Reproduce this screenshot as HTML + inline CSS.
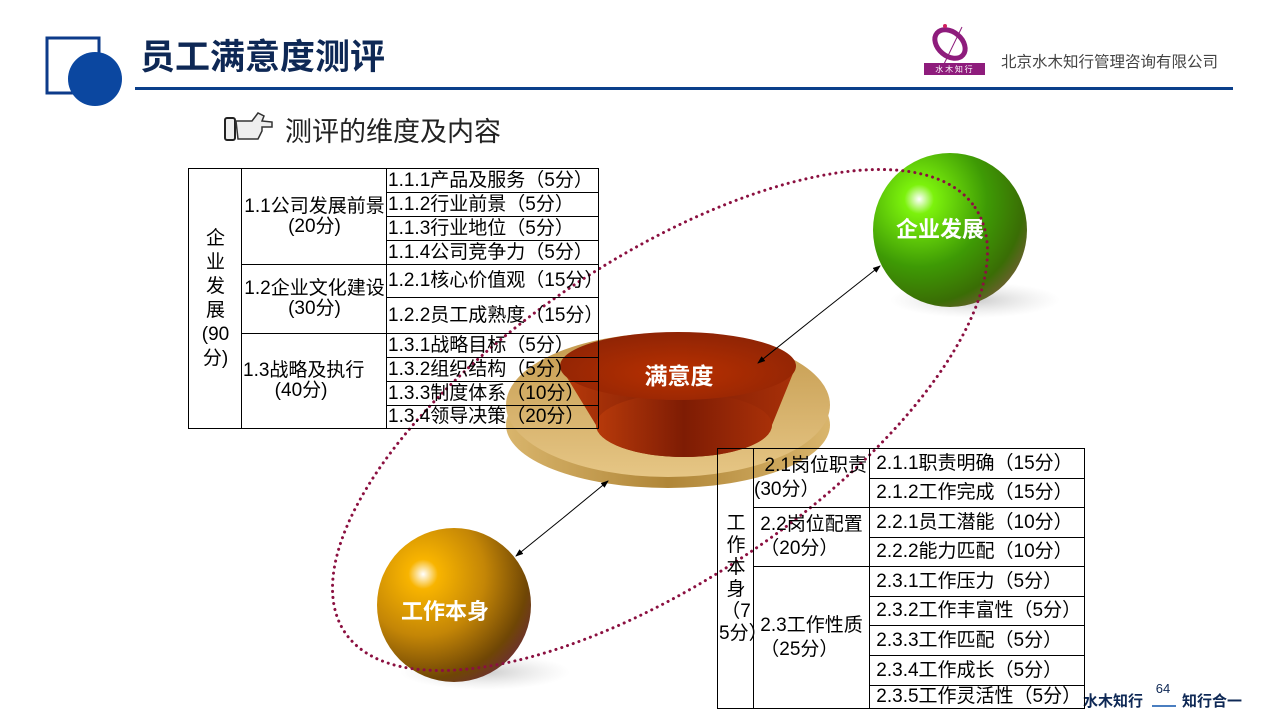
<!DOCTYPE html>
<html><head><meta charset="utf-8">
<style>
body{margin:0;width:1280px;height:720px;background:#fff;position:relative;overflow:hidden;font-family:"Liberation Sans","Noto Sans CJK SC",sans-serif;}
.a{position:absolute;}
table{border-collapse:collapse;position:absolute;font-size:19px;color:#000;table-layout:fixed;}
td{border:1px solid #000;padding:0 0 0 1px;white-space:nowrap;line-height:20px;overflow:visible;}
td.c{text-align:center;}
</style></head><body>
<svg class="a" style="left:0;top:0" width="1280" height="720">
<defs>
<radialGradient id="gr" cx="0.3" cy="0.3" r="0.8"><stop offset="0" stop-color="#fff"/><stop offset="0.12" stop-color="#7cf20c"/><stop offset="0.55" stop-color="#3e9a05"/><stop offset="0.85" stop-color="#3a6d05"/><stop offset="1" stop-color="#6d6030"/></radialGradient>
<radialGradient id="go" cx="0.3" cy="0.3" r="0.8"><stop offset="0" stop-color="#fff"/><stop offset="0.12" stop-color="#f8b400"/><stop offset="0.5" stop-color="#c48606"/><stop offset="0.85" stop-color="#6f4605"/><stop offset="1" stop-color="#6e3030"/></radialGradient>
<radialGradient id="sh" cx="0.5" cy="0.5" r="0.5"><stop offset="0" stop-color="#aaa" stop-opacity=".6"/><stop offset="1" stop-color="#ccc" stop-opacity="0"/></radialGradient>
<linearGradient id="gold" x1="0" y1="0" x2="0" y2="1"><stop offset="0" stop-color="#c49a4e"/><stop offset="1" stop-color="#e6c685"/></linearGradient>
<linearGradient id="goldb" x1="0" y1="0" x2="1" y2="0"><stop offset="0" stop-color="#d9b56c"/><stop offset="0.5" stop-color="#b08638"/><stop offset="1" stop-color="#d9b56c"/></linearGradient>
<linearGradient id="red" x1="0" y1="0" x2="1" y2="0"><stop offset="0" stop-color="#b83a0a"/><stop offset="0.5" stop-color="#7e1c04"/><stop offset="1" stop-color="#a83008"/></linearGradient>
<radialGradient id="redt" cx="0.5" cy="0.6" r="0.6"><stop offset="0" stop-color="#b83000"/><stop offset="1" stop-color="#8f2405"/></radialGradient>
<marker id="ar" markerWidth="8" markerHeight="8" refX="7" refY="4" orient="auto"><path d="M0,1 L8,4 L0,7z" fill="#000"/></marker>
</defs>
<rect x="47" y="38" width="52" height="55" fill="none" stroke="#0d3b8a" stroke-width="3"/>
<circle cx="95" cy="79" r="27" fill="#0b47a0"/>
<rect x="135" y="87" width="1098" height="3" fill="#0b3f8a"/>
<text x="140" y="69" font-size="35" font-weight="bold" fill="#0e2855" font-family="Liberation Sans,Noto Sans CJK SC,sans-serif">员工满意度测评</text>
<ellipse cx="950" cy="44" rx="17" ry="12" fill="none" stroke="#8e1c7c" stroke-width="5" transform="rotate(40 950 44)"/>
<line x1="944" y1="64" x2="962" y2="27" stroke="#8e1c7c" stroke-width="1"/>
<circle cx="945" cy="26" r="2" fill="#d02060"/>
<rect x="924" y="63" width="61" height="12" fill="#8e1c7c"/>
<text x="954" y="72" font-size="8" fill="#fff" text-anchor="middle" font-family="Noto Sans CJK SC,sans-serif">水 木 知 行</text>
<text x="1001" y="67" font-size="15.5" fill="#444" font-family="Liberation Sans,Noto Sans CJK SC,sans-serif">北京水木知行管理咨询有限公司</text>
<rect x="225" y="118" width="10" height="22" rx="2" fill="#eee" stroke="#222" stroke-width="2"/>
<path d="M236 121 L252 121 L258 113 L264 116 L262 121 L272 122 L272 127 L262 127 L262 131 L260 135 L258 139 L238 139z" fill="#eee" stroke="#333" stroke-width="1.5"/>
<text x="285" y="141" font-size="27" fill="#222" font-family="Liberation Sans,Noto Sans CJK SC,sans-serif">测评的维度及内容</text>
<ellipse cx="975" cy="300" rx="85" ry="18" fill="url(#sh)"/>
<ellipse cx="485" cy="672" rx="85" ry="18" fill="url(#sh)"/>
<ellipse cx="668" cy="425" rx="162" ry="63" fill="url(#goldb)"/>
<ellipse cx="668" cy="405" rx="162" ry="72" fill="url(#gold)"/>
<path d="M560 366 L596 425 A88 32 0 0 0 772 425 L796 366z" fill="url(#red)"/>
<ellipse cx="684" cy="425" rx="88" ry="32" fill="url(#red)"/>
<ellipse cx="678" cy="366" rx="118" ry="34" fill="url(#redt)"/>
<text x="679" y="384" font-size="23" font-weight="bold" fill="#fff" text-anchor="middle" font-family="Liberation Sans,Noto Sans CJK SC,sans-serif">满意度</text>
<circle cx="950" cy="230" r="77" fill="url(#gr)"/>
<text x="940" y="237" font-size="22" font-weight="bold" fill="#fff" text-anchor="middle" font-family="Liberation Sans,Noto Sans CJK SC,sans-serif">企业发展</text>
<circle cx="454" cy="605" r="77" fill="url(#go)"/>
<text x="445" y="619" font-size="22" font-weight="bold" fill="#fff" text-anchor="middle" font-family="Liberation Sans,Noto Sans CJK SC,sans-serif">工作本身</text>
<ellipse cx="660" cy="420" rx="380" ry="160" fill="none" stroke="#8b1040" stroke-width="3" stroke-dasharray="0.1 6" stroke-linecap="round" transform="rotate(-34 660 420)"/>
<line x1="818" y1="315" x2="758" y2="363" stroke="#000" stroke-width="1" marker-end="url(#ar)"/>
<line x1="818" y1="315" x2="880" y2="266" stroke="#000" stroke-width="1" marker-end="url(#ar)"/>
<line x1="563" y1="518" x2="608" y2="481" stroke="#000" stroke-width="1" marker-end="url(#ar)"/>
<line x1="563" y1="518" x2="516" y2="556" stroke="#000" stroke-width="1" marker-end="url(#ar)"/>
<text x="1083" y="706" font-size="15" font-weight="bold" fill="#0e2855" font-family="Liberation Sans,Noto Sans CJK SC,sans-serif">水木知行</text>
<text x="1163" y="693" font-size="13" fill="#0e2855" text-anchor="middle">64</text>
<rect x="1152" y="705" width="24" height="2" fill="#4a7ec0"/>
<text x="1182" y="706" font-size="15" font-weight="bold" fill="#0e2855" font-family="Liberation Sans,Noto Sans CJK SC,sans-serif">知行合一</text>
</svg>

<table style="left:188px;top:168px;width:410px;">
<colgroup><col style="width:53px"><col style="width:145px"><col style="width:212px"></colgroup>
<tr style="height:24px"><td class="c" rowspan="10" style="line-height:24px">企<br>业<br>发<br>展<br>(90<br>分)</td><td class="c" rowspan="4">1.1公司发展前景<br>(20分)</td><td>1.1.1产品及服务（5分）</td></tr>
<tr style="height:24px"><td>1.1.2行业前景（5分）</td></tr>
<tr style="height:24px"><td>1.1.3行业地位（5分）</td></tr>
<tr style="height:24px"><td>1.1.4公司竞争力（5分）</td></tr>
<tr style="height:33px"><td class="c" rowspan="2">1.2企业文化建设<br>(30分)</td><td>1.2.1核心价值观（15分）</td></tr>
<tr style="height:36px"><td>1.2.2员工成熟度（15分）</td></tr>
<tr style="height:24px"><td rowspan="4">1.3战略及执行<br>&nbsp;&nbsp;&nbsp;&nbsp;&nbsp;&nbsp;(40分)</td><td>1.3.1战略目标（5分）</td></tr>
<tr style="height:24px"><td>1.3.2组织结构（5分）</td></tr>
<tr style="height:24px"><td>1.3.3制度体系（10分）</td></tr>
<tr style="height:23px"><td>1.3.4领导决策（20分）</td></tr>
</table>

<table style="left:717px;top:448px;width:367px;">
<colgroup><col style="width:36px"><col style="width:116px"><col style="width:215px"></colgroup>
<tr style="height:30px"><td class="c" rowspan="9" style="line-height:22px">工<br>作<br>本<br>身<br>（7<br>5分）</td><td rowspan="2" style="padding-left:0;line-height:24px">&nbsp;&nbsp;2.1岗位职责<br>(30分）</td><td>&nbsp;2.1.1职责明确（15分）</td></tr>
<tr style="height:29px"><td>&nbsp;2.1.2工作完成（15分）</td></tr>
<tr style="height:30px"><td rowspan="2" style="line-height:24px">&nbsp;2.2岗位配置<br>&nbsp;（20分）</td><td>&nbsp;2.2.1员工潜能（10分）</td></tr>
<tr style="height:29px"><td>&nbsp;2.2.2能力匹配（10分）</td></tr>
<tr style="height:30px"><td rowspan="5" style="line-height:24px">&nbsp;2.3工作性质<br>&nbsp;（25分）</td><td>&nbsp;2.3.1工作压力（5分）</td></tr>
<tr style="height:29px"><td>&nbsp;2.3.2工作丰富性（5分）</td></tr>
<tr style="height:30px"><td>&nbsp;2.3.3工作匹配（5分）</td></tr>
<tr style="height:30px"><td>&nbsp;2.3.4工作成长（5分）</td></tr>
<tr style="height:23px"><td>&nbsp;2.3.5工作灵活性（5分）</td></tr>
</table>
</body></html>
